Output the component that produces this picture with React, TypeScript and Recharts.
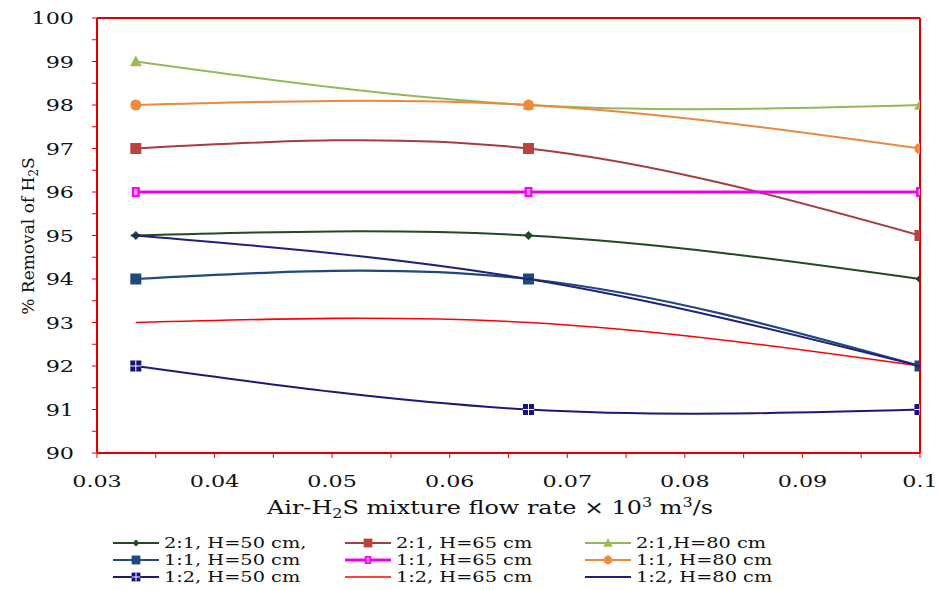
import React from "react";
import { LineChart, Line, XAxis, YAxis, ReferenceLine } from "recharts";

const flowRates = [0.0333, 0.0667, 0.1];
const r21h50 = [95, 95, 94];
const r21h65 = [97, 97, 95];
const r21h80 = [99, 98, 98];
const r11h50 = [94, 94, 92];
const r11h65 = [96, 96, 96];
const r11h80 = [98, 98, 97];
const r12h50 = [92, 91, 91];
const r12h65 = [93, 93, 92];
const r12h80 = [95, 94, 92];

const xMajorTicks = [0.03, 0.04, 0.05, 0.06, 0.07, 0.08, 0.09, 0.1];
const xTickLabels = ["0.03", "0.04", "0.05", "0.06", "0.07", "0.08", "0.09", "0.1"];
const xMinorTicks = [0.035, 0.045, 0.055, 0.065, 0.075, 0.085, 0.095];
const yMajorTicks = [90, 91, 92, 93, 94, 95, 96, 97, 98, 99, 100];
const yTickLabels = ["90", "91", "92", "93", "94", "95", "96", "97", "98", "99", "100"];
const yMinorTicks = [90.5, 91.5, 92.5, 93.5, 94.5, 95.5, 96.5, 97.5, 98.5, 99.5];

const seriesNames = [
  "2:1, H=50 cm,",
  "2:1, H=65 cm",
  "2:1,H=80 cm",
  "1:1, H=50 cm",
  "1:1, H=65 cm",
  "1:1, H=80 cm",
  "1:2, H=50 cm",
  "1:2, H=65 cm",
  "1:2, H=80 cm",
];

const seriesValues = [r21h50, r21h65, r21h80, r11h50, r11h65, r11h80, r12h50, r12h65, r12h80];

const styles = [
  { line: "#1F4A22", fill: "#1F4A22", kind: "diamond", w: 2 },
  { line: "#A53E3C", fill: "#B8443F", kind: "square", w: 2 },
  { line: "#93B957", fill: "#9BBB59", kind: "triangle", w: 2 },
  { line: "#1F497D", fill: "#1F497D", kind: "square", w: 2.2 },
  { line: "#F000F0", fill: "#FF00FF", kind: "slim", w: 3 },
  { line: "#EA8A3F", fill: "#F08A3E", kind: "circle", w: 2 },
  { line: "#1A1A78", fill: "#14147A", kind: "crossSquare", w: 2 },
  { line: "#FF0000", fill: "#FF0000", kind: "none", w: 1.6 },
  { line: "#20207E", fill: "#20207E", kind: "dash", w: 2 },
];

const data = flowRates.map((x, i) => {
  const row: any = { x };
  seriesValues.forEach((vals, k) => {
    row["s" + k] = vals[i];
  });
  return row;
});

const FONT = "'DejaVu Serif', 'Liberation Serif', serif";
const RED = "#E00000";

function Marker({ cx, cy, kind, fill, s = 1 }: any) {
  if (cx == null || cy == null) return <g />;
  switch (kind) {
    case "diamond": {
      const r = 4.5 * s;
      return (
        <polygon
          points={`${cx},${cy - r} ${cx + r},${cy} ${cx},${cy + r} ${cx - r},${cy}`}
          fill={fill}
        />
      );
    }
    case "square": {
      const h = 5.5 * s;
      return <rect x={cx - h} y={cy - h} width={2 * h} height={2 * h} fill={fill} />;
    }
    case "triangle": {
      const h = 6 * s;
      return (
        <polygon
          points={`${cx},${cy - h} ${cx + h},${cy + h * 0.8} ${cx - h},${cy + h * 0.8}`}
          fill={fill}
        />
      );
    }
    case "circle":
      return <circle cx={cx} cy={cy} r={5.5 * s} fill={fill} />;
    case "slim": {
      const w = 4 * s;
      const h = 5 * s;
      return (
        <g>
          <rect x={cx - w} y={cy - h} width={2 * w} height={2 * h} fill={fill} />
          <rect x={cx - w * 0.4} y={cy - h * 0.6} width={w * 0.8} height={h * 1.2} fill="#F7A0F7" />
        </g>
      );
    }
    case "crossSquare": {
      const h = 5.5 * s;
      return (
        <g>
          <rect x={cx - h} y={cy - h} width={2 * h} height={2 * h} fill={fill} />
          <line x1={cx - h} x2={cx + h} y1={cy} y2={cy} stroke="#FFFFFF" strokeWidth={1} />
          <line x1={cx} x2={cx} y1={cy - h} y2={cy + h} stroke="#FFFFFF" strokeWidth={1} />
        </g>
      );
    }
    case "dash": {
      const h = 5 * s;
      return <line x1={cx - h} x2={cx + h} y1={cy} y2={cy} stroke={fill} strokeWidth={2} />;
    }
    default:
      return <g />;
  }
}

function XTick(props: any) {
  const { x, y, payload } = props;
  const idx = xMajorTicks.findIndex((t) => Math.abs(t - payload.value) < 1e-9);
  if (idx < 0) return <g />;
  return (
    <text
      transform={`translate(${x},${y + 29}) scale(1.35,1)`}
      x={0}
      y={0}
      textAnchor="middle"
      fontFamily={FONT}
      fontSize={16.5}
      fill="#111"
    >
      {xTickLabels[idx]}
    </text>
  );
}

function YTick(props: any) {
  const { x, y, payload } = props;
  const idx = yMajorTicks.findIndex((t) => Math.abs(t - payload.value) < 1e-9);
  if (idx < 0) return <g />;
  return (
    <text
      transform={`translate(${x},${y + 6}) scale(1.35,1)`}
      x={0}
      y={0}
      textAnchor="end"
      fontFamily={FONT}
      fontSize={16.5}
      fill="#111"
    >
      {yTickLabels[idx]}
    </text>
  );
}

const legendCols = [113, 345, 585];
const legendRows = [543, 560, 577];

function Overlay() {
  return (
    <svg
      width={939}
      height={590}
      style={{ position: "absolute", left: 0, top: 0, pointerEvents: "none" }}
    >
      <text
        x={490}
        y={514}
        textAnchor="middle"
        fontFamily={FONT}
        fontSize={18}
        fill="#111"
        textLength={446}
        lengthAdjust="spacingAndGlyphs"
      >
        Air-H<tspan fontSize={12} dy={4}>2</tspan>
        <tspan dy={-4}>S mixture flow rate × 10</tspan>
        <tspan fontSize={12} dy={-7}>3</tspan>
        <tspan dy={7}> m</tspan>
        <tspan fontSize={12} dy={-7}>3</tspan>
        <tspan dy={7}>/s</tspan>
      </text>
      <text
        transform="translate(34,236) rotate(-90)"
        x={0}
        y={0}
        textAnchor="middle"
        fontFamily={FONT}
        fontSize={17}
        fill="#111"
      >
        % Removal of H<tspan fontSize={12} dy={4}>2</tspan>
        <tspan dy={-4}>S</tspan>
      </text>
      {seriesNames.map((name, i) => {
        const col = i % 3;
        const row = Math.floor(i / 3);
        const x0 = legendCols[col];
        const y0 = legendRows[row];
        const st = styles[i];
        return (
          <g key={name}>
            <line x1={x0} x2={x0 + 46} y1={y0} y2={y0} stroke={st.line} strokeWidth={st.w} />
            <Marker cx={x0 + 23} cy={y0} kind={st.kind} fill={st.fill} s={0.8} />
            <text
              transform={`translate(${x0 + 51},${y0 + 5}) scale(1.38,1)`}
              x={0}
              y={0}
              fontFamily={FONT}
              fontSize={14}
              fill="#111"
            >
              {name}
            </text>
          </g>
        );
      })}
    </svg>
  );
}

export default function App() {
  const xTicks = [...xMajorTicks, ...xMinorTicks].sort((a, b) => a - b);
  const yTicks = [...yMajorTicks, ...yMinorTicks].sort((a, b) => a - b);
  return (
    <div style={{ position: "absolute", left: 0, top: 0, width: 939, height: 590, background: "#fff" }}>
      <LineChart
        width={939}
        height={590}
        data={data}
        margin={{ top: 18, right: 19, left: 37, bottom: 107 }}
      >
        <XAxis
          dataKey="x"
          type="number"
          domain={[0.03, 0.1]}
          ticks={xTicks}
          interval={0}
          height={30}
          axisLine={{ stroke: RED, strokeWidth: 2 }}
          tickLine={{ stroke: RED, strokeWidth: 1 }}
          tickSize={5}
          tickMargin={0}
          tick={<XTick />}
          allowDataOverflow
        />
        <YAxis
          type="number"
          domain={[90, 100]}
          ticks={yTicks}
          interval={0}
          width={60}
          axisLine={{ stroke: RED, strokeWidth: 2 }}
          tickLine={{ stroke: RED, strokeWidth: 1 }}
          tickSize={5}
          tickMargin={18}
          tick={<YTick />}
          allowDataOverflow
        />
        <ReferenceLine y={100} stroke={RED} strokeWidth={2} />
        <ReferenceLine x={0.1} stroke={RED} strokeWidth={2} />
        {styles.map((st, k) => (
          <Line
            key={k}
            dataKey={"s" + k}
            type="natural"
            stroke={st.line}
            strokeWidth={st.w}
            isAnimationActive={false}
            dot={(p: any) => (
              <Marker key={"d" + k + "-" + p.index} cx={p.cx} cy={p.cy} kind={st.kind} fill={st.fill} />
            )}
            activeDot={false}
          />
        ))}
      </LineChart>
      <Overlay />
    </div>
  );
}
